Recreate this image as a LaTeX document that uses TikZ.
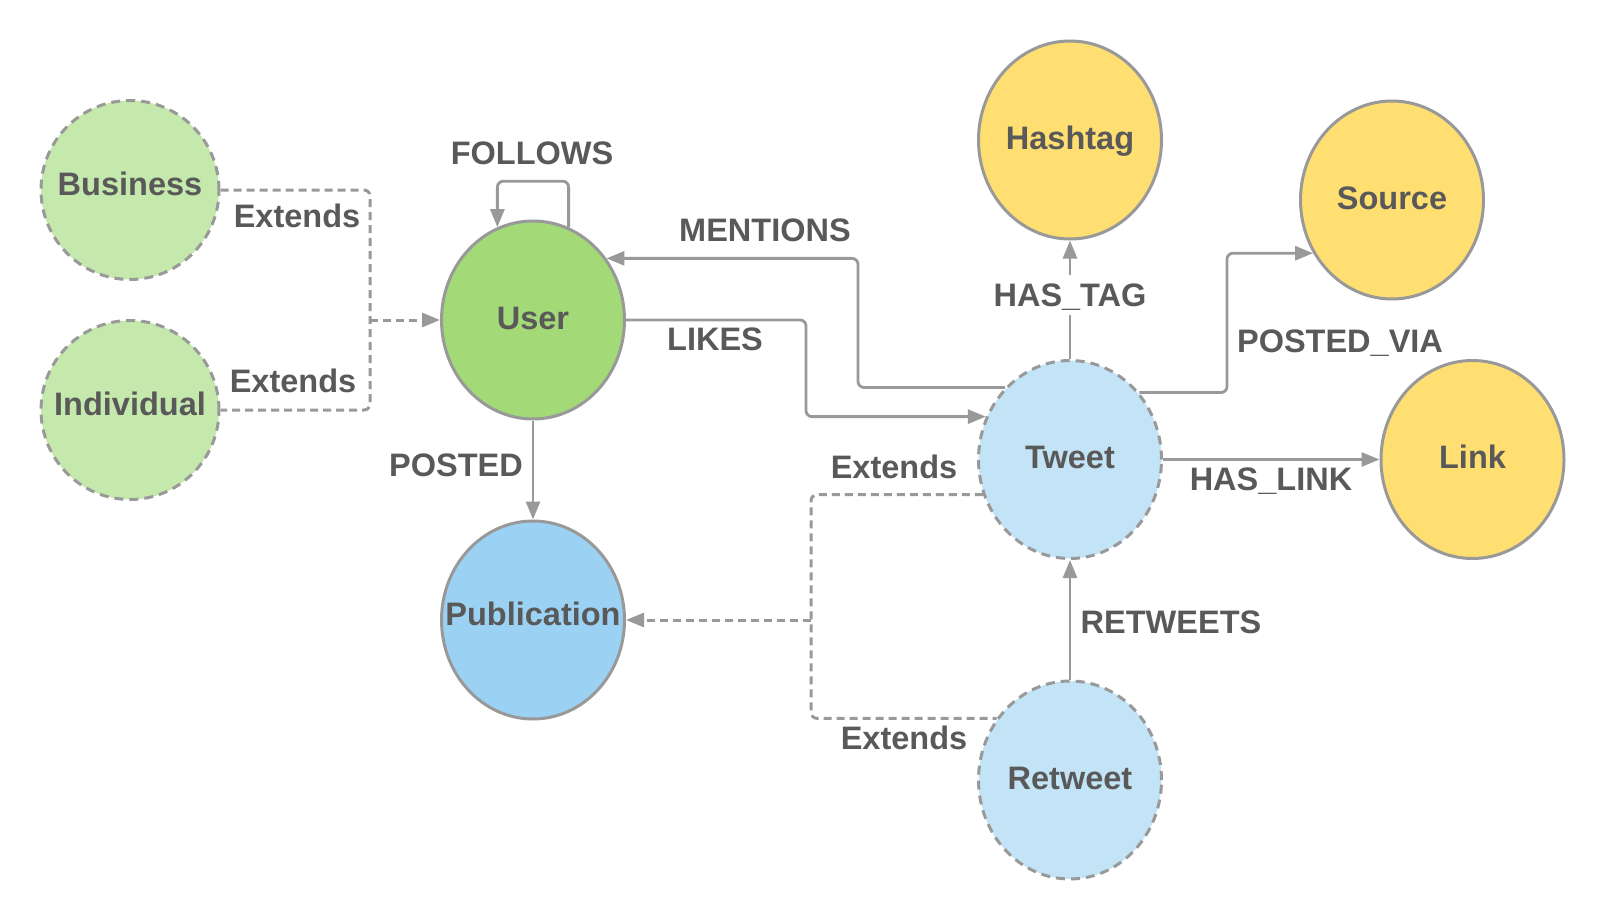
\documentclass[tikz,border=0pt]{standalone}
\usepackage{fontspec}
\setmainfont{Liberation Sans}
\usetikzlibrary{shapes.geometric}
\usetikzlibrary{arrows.meta}

\definecolor{linegray}{HTML}{999999}
\definecolor{textgray}{HTML}{595959}
\definecolor{usergreen}{HTML}{A3D977}
\definecolor{palegreen}{HTML}{C5E8AD}
\definecolor{pubblue}{HTML}{9BD1F2}
\definecolor{paleblue}{HTML}{C2E4F6}
\definecolor{tagyellow}{HTML}{FFDF71}

\begin{document}
\begin{tikzpicture}[x=0.5pt,y=-0.5pt,
    txt/.style={font=\bfseries\fontsize{16.25}{19}\selectfont,text=textgray,text height=11.7pt,text depth=0pt,inner sep=1pt},
    inner/.style={txt,text depth=2.5pt},
    raised/.style={inner,yshift=2pt},
    entity/.style={ellipse,draw=linegray,line width=1.5pt,minimum width=91.5pt,minimum height=99pt,inner sep=0pt},
    subtype/.style={entity,dash pattern=on 4.5pt off 3pt},
    rel/.style={color=linegray,line width=1.4pt,rounded corners=3pt,-{Triangle[length=9pt,width=7pt]}},
    ext/.style={rel,line width=1.5pt,dash pattern=on 4pt off 2.5pt}]
    \useasboundingbox (0,0) rectangle (1606,920);

    % Entities
    \node (business) [subtype,fill=palegreen,minimum width=89pt,minimum height=89.5pt,label={[raised]center:Business}] at (130,190) {};
    \node (individual) [subtype,fill=palegreen,minimum width=89pt,minimum height=89.5pt,label={[raised]center:Individual}] at (130,410) {};
    \node (user) [entity,fill=usergreen,label={[inner]center:User}] at (533,320) {};
    \node (publication) [entity,fill=pubblue,label={[raised]center:Publication}] at (533,620) {};
    \node (tweet) [subtype,fill=paleblue,label={[inner]center:Tweet}] at (1070,459.5) {};
    \node (retweet) [subtype,fill=paleblue,label={[inner]center:Retweet}] at (1070,780) {};
    \node (hashtag) [entity,fill=tagyellow,label={[inner]center:Hashtag}] at (1070,140) {};
    \node (source) [entity,fill=tagyellow,label={[inner]center:Source}] at (1392,200) {};
    \node (link) [entity,fill=tagyellow,label={[inner]center:Link}] at (1472.5,459.5) {};

    % Bends
    \coordinate (userjoin) at (370,0);
    \coordinate (pubjoin) at (811,0);
    \coordinate (likesbend) at (806,0);
    \coordinate (mentionsbend) at (858,0);
    \coordinate (viabend) at (1227,0);

    % Relations
    \draw[rel] (user.69) -- ++(0,-46) -| (user.111);
    \draw[rel] (tweet.132) -- (tweet.132 -| mentionsbend) |- (user.40);
    \draw[rel] (user.east) -- (user.east -| likesbend) |- (tweet.153);
    \draw[rel] (user.south) -- (publication.north);
    \draw[rel] (tweet.north) -- (hashtag.south);
    \draw[rel] (tweet.44) -- (tweet.44 -| viabend) |- (source.214);
    \draw[rel] (tweet.east) -- (link.west);
    \draw[rel] (retweet.north) -- (tweet.south);

    % Extends
    \draw[ext,-] (business.east) -- (business.east -| userjoin) -- (individual.east -| userjoin) -- (individual.east);
    \draw[ext] (user.west -| userjoin) -- (user.west);
    \draw[ext,-] (tweet.202) -- (tweet.202 -| pubjoin) -- (retweet.140 -| pubjoin) -- (retweet.140);
    \draw[ext] (publication.east -| pubjoin) -- (publication.east);

    % Labels
    \node (followslbl) [txt] at (532,153) {FOLLOWS};
    \node (bizextlbl) [txt] at (297,216) {Extends};
    \node (indextlbl) [txt] at (293,381) {Extends};
    \node (mentionslbl) [txt] at (765,230) {MENTIONS};
    \node (likeslbl) [txt] at (715,339) {LIKES};
    \node (postedlbl) [txt] at (456,465) {POSTED};
    \node (hastaglbl) [txt,fill=white,inner sep=4pt] at (1070,295) {HAS\_TAG};
    \node (postedvialbl) [txt] at (1340,341) {POSTED\_VIA};
    \node (haslinklbl) [txt] at (1271,479) {HAS\_LINK};
    \node (retweetslbl) [txt] at (1171,622) {RETWEETS};
    \node (tweetextlbl) [txt] at (894,467) {Extends};
    \node (rtextlbl) [txt] at (904,738) {Extends};
\end{tikzpicture}
\end{document}
